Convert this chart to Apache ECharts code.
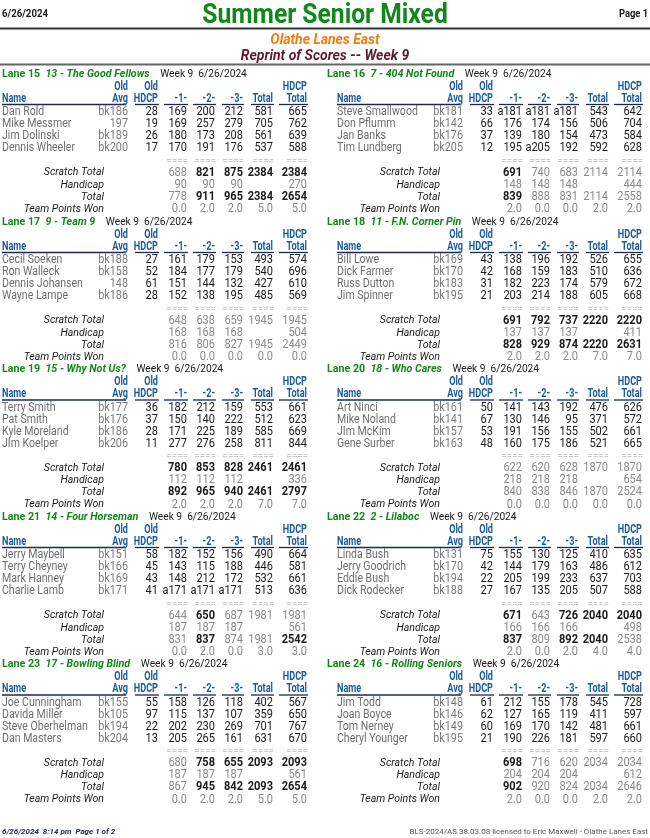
<!DOCTYPE html>
<html><head><meta charset="utf-8">
<script src="https://cdn.jsdelivr.net/npm/echarts@6/dist/echarts.min.js"></script>
<style>html,body{margin:0;padding:0;background:#fff}#c{width:650px;height:838px}</style>
</head><body><div id="c"></div>
<script>
// ---------- DATA ----------
const headerDate = '6/26/2024';
const pageLabel = 'Page 1';
const leagueTitle = 'Summer Senior Mixed';
const centerName = 'Olathe Lanes East';
const reportTitle = 'Reprint of Scores -- Week 9';
const weekLabel = 'Week 9  6/26/2024';
const footerLeft = '6/26/2024  8:14 pm  Page 1 of 2';
const footerRight = 'BLS-2024/AS 38.03.08 licensed to Eric Maxwell - Olathe Lanes East';

const laneNumbers = [15, 16, 17, 18, 19, 20, 21, 22, 23, 24];
const teamNames = ['13 - The Good Fellows', '7 - 404 Not Found', '9 - Team 9', '11 - F.N. Corner Pin',
  '15 - Why Not Us?', '18 - Who Cares', '14 - Four Horseman', '2 - Lilaboc', '17 - Bowling Blind', '16 - Rolling Seniors'];
const playerNames = [
  ['Dan Rold', 'Mike Messmer', 'Jim Dolinski', 'Dennis Wheeler'],
  ['Steve Smallwood', 'Don Pflumm', 'Jan Banks', 'Tim Lundberg'],
  ['Cecil Soeken', 'Ron Walleck', 'Dennis Johansen', 'Wayne Lampe'],
  ['Bill Lowe', 'Dick Farmer', 'Russ Dutton', 'Jim Spinner'],
  ['Terry Smith', 'Pat Smith', 'Kyle Moreland', 'JIm Koelper'],
  ['Art Ninci', 'Mike Noland', 'JIm McKim', 'Gene Surber'],
  ['Jerry Maybell', 'Terry Cheyney', 'Mark Hanney', 'Charlie Lamb'],
  ['Linda Bush', 'Jerry Goodrich', 'Eddie Bush', 'Dick Rodecker'],
  ['Joe Cunningham', 'Davida Miller', 'Steve Oberhelman', 'Dan Masters'],
  ['Jim Todd', 'Joan Boyce', 'Tom Nerney', 'Cheryl Younger']
];
const playerAvgs = [
  ['bk186', '197', 'bk189', 'bk200'],
  ['bk181', 'bk142', 'bk176', 'bk205'],
  ['bk188', 'bk158', '148', 'bk186'],
  ['bk169', 'bk170', 'bk183', 'bk195'],
  ['bk177', 'bk176', 'bk186', 'bk206'],
  ['bk161', 'bk141', 'bk157', 'bk163'],
  ['bk151', 'bk166', 'bk169', 'bk171'],
  ['bk131', 'bk170', 'bk194', 'bk188'],
  ['bk155', 'bk105', 'bk194', 'bk204'],
  ['bk148', 'bk146', 'bk149', 'bk195']
];
const playerHdcps = [
  [28, 19, 26, 17], [33, 66, 37, 12], [27, 52, 61, 28], [43, 42, 31, 21], [36, 37, 28, 11],
  [50, 67, 53, 48], [58, 45, 43, 41], [75, 42, 22, 27], [55, 97, 22, 13], [61, 62, 60, 21]
];
// game 1, game 2, game 3, scratch series, handicap series
const playerScores = [
  [[169, 200, 212, 581, 665], [169, 257, 279, 705, 762], [180, 173, 208, 561, 639], [170, 191, 176, 537, 588]],
  [['a181', 'a181', 'a181', 543, 642], [176, 174, 156, 506, 704], [139, 180, 154, 473, 584], [195, 'a205', 192, 592, 628]],
  [[161, 179, 153, 493, 574], [184, 177, 179, 540, 696], [151, 144, 132, 427, 610], [152, 138, 195, 485, 569]],
  [[138, 196, 192, 526, 655], [168, 159, 183, 510, 636], [182, 223, 174, 579, 672], [203, 214, 188, 605, 668]],
  [[182, 212, 159, 553, 661], [150, 140, 222, 512, 623], [171, 225, 189, 585, 669], [277, 276, 258, 811, 844]],
  [[141, 143, 192, 476, 626], [130, 146, 95, 371, 572], [191, 156, 155, 502, 661], [160, 175, 186, 521, 665]],
  [[182, 152, 156, 490, 664], [143, 115, 188, 446, 581], [148, 212, 172, 532, 661], ['a171', 'a171', 'a171', 513, 636]],
  [[155, 130, 125, 410, 635], [144, 179, 163, 486, 612], [205, 199, 233, 637, 703], [167, 135, 205, 507, 588]],
  [[158, 126, 118, 402, 567], [115, 137, 107, 359, 650], [202, 230, 269, 701, 767], [205, 265, 161, 631, 670]],
  [[212, 155, 178, 545, 728], [127, 165, 119, 411, 597], [169, 170, 142, 481, 661], [190, 226, 181, 597, 660]]
];
const scratchTotals = [
  [688, 821, 875, 2384, 2384], [691, 740, 683, 2114, 2114], [648, 638, 659, 1945, 1945], [691, 792, 737, 2220, 2220],
  [780, 853, 828, 2461, 2461], [622, 620, 628, 1870, 1870], [644, 650, 687, 1981, 1981], [671, 643, 726, 2040, 2040],
  [680, 758, 655, 2093, 2093], [698, 716, 620, 2034, 2034]
];
const handicapTotals = [
  [90, 90, 90, '', 270], [148, 148, 148, '', 444], [168, 168, 168, '', 504], [137, 137, 137, '', 411],
  [112, 112, 112, '', 336], [218, 218, 218, '', 654], [187, 187, 187, '', 561], [166, 166, 166, '', 498],
  [187, 187, 187, '', 561], [204, 204, 204, '', 612]
];
const teamTotals = [
  [778, 911, 965, 2384, 2654], [839, 888, 831, 2114, 2558], [816, 806, 827, 1945, 2449], [828, 929, 874, 2220, 2631],
  [892, 965, 940, 2461, 2797], [840, 838, 846, 1870, 2524], [831, 837, 874, 1981, 2542], [837, 809, 892, 2040, 2538],
  [867, 945, 842, 2093, 2654], [902, 920, 824, 2034, 2646]
];
const teamPoints = [
  ['0.0', '2.0', '2.0', '5.0', '5.0'], ['2.0', '0.0', '0.0', '2.0', '2.0'], ['0.0', '0.0', '0.0', '0.0', '0.0'],
  ['2.0', '2.0', '2.0', '7.0', '7.0'], ['2.0', '2.0', '2.0', '7.0', '7.0'], ['0.0', '0.0', '0.0', '0.0', '0.0'],
  ['0.0', '2.0', '0.0', '3.0', '3.0'], ['2.0', '0.0', '2.0', '4.0', '4.0'], ['0.0', '2.0', '2.0', '5.0', '5.0'],
  ['2.0', '0.0', '0.0', '2.0', '2.0']
];
const totalRowLabels = ['Scratch Total', 'Handicap', 'Total', 'Team Points Won'];

// ---------- LAYOUT / STYLE ----------
const FF = 'Roboto, "Liberation Sans", sans-serif';
const GREEN = '#12881a', ORANGE = '#f07d12', MAROON = '#5e1a33', BLUE = '#1b5b9c';
const font = (size, weight, style) => `${style || 'normal'} ${weight || 'normal'} ${size}px ${FF}`;
const els = [];
function T(x, y, text, o) {
  o = o || {};
  els.push({
    type: 'text', x: x, y: y, scaleX: o.sx || 1, silent: true, z: 10,
    style: {
      text: String(text), fill: o.fill || '#1a1a1a', font: font(o.size || 11, o.weight, o.style),
      textAlign: o.align || 'left', textVerticalAlign: 'middle', align: o.align || 'left', verticalAlign: 'middle',
      rich: o.rich
    }
  });
}
function L(x1, y1, x2, y2, stroke, w) {
  els.push({ type: 'line', silent: true, shape: { x1, y1, x2, y2 }, style: { stroke, lineWidth: w } });
}

// page header
T(2, 14, headerDate, { size: 11, weight: 'bold', sx: 0.88 });
T(648, 14, pageLabel, { size: 11, weight: 'bold', sx: 0.85, align: 'right' });
T(325, 16, leagueTitle, { size: 28, weight: 'bold', fill: GREEN, sx: 0.88, align: 'center' });
L(0, 28.5, 650, 28.5, '#333', 2);
T(325, 40, centerName, { size: 15, weight: 'bold', style: 'italic', fill: ORANGE, sx: 0.93, align: 'center' });
T(325, 56, reportTitle, { size: 14, weight: 'bold', style: 'italic', fill: MAROON, sx: 1.0, align: 'center' });
L(0, 64.5, 650, 64.5, '#666', 2);

// footer
T(2, 832, footerLeft, { size: 8, weight: 'bold', style: 'italic', fill: '#1c2f6e' });
T(648, 832, footerRight, { size: 8, fill: '#555', align: 'right', sx: 1.0 });

const blockY = [74, 74, 222, 222, 369.5, 369.5, 517, 517, 664.5, 664.5];
const colRight = [128, 158, 187, 215, 243, 273, 307];
const ulStart = [null, 135, 164, 193, 222, 251, 279];

function scoreVal(v) { return typeof v === 'number' ? v : parseInt(String(v).replace(/\D/g, ''), 10) || 0; }

laneNumbers.forEach((lane, k) => {
  const right = k % 2 === 1;
  const dx = right ? 335 : 0;
  const opp = right ? k - 1 : k + 1;
  const y0 = blockY[k];
  const titleX = right ? 327 : 2;
  const nameX = right ? 337 : 2;
  const cx = colRight.map(c => c + dx);

  // block title
  T(titleX, y0, `{a|Lane ${lane}}  {b|${teamNames[k]}}    {c|${weekLabel}}`, {
    size: 11, sx: 0.97,
    rich: {
      a: { fill: GREEN, font: font(11, 'bold'), fontFamily: FF, fontWeight: 'bold', fontSize: 11 },
      b: { fill: GREEN, font: font(11, 'bold', 'italic'), fontFamily: FF, fontWeight: 'bold', fontStyle: 'italic', fontSize: 11 },
      c: { fill: '#1a1a1a', font: font(10.5), fontFamily: FF, fontSize: 10.5 }
    }
  });

  // column headers
  const hOpt = a => ({ size: 12, weight: 'bold', fill: BLUE, sx: 0.76, align: a || 'right' });
  T(cx[0], y0 + 12.5, 'Old', hOpt());
  T(cx[1], y0 + 12.5, 'Old', hOpt());
  T(cx[6], y0 + 12.5, 'HDCP', hOpt());
  T(nameX, y0 + 24.5, 'Name', hOpt('left'));
  const hdr = ['Avg', 'HDCP', '-1-', '-2-', '-3-', 'Total', 'Total'];
  hdr.forEach((h, i) => T(cx[i], y0 + 24.5, h, hOpt()));
  const uy = y0 + 30.5;
  L(nameX, uy, cx[0] - 2, uy, '#1a2a50', 1.3);
  for (let i = 1; i < 7; i++) L(ulStart[i] + dx, uy, cx[i] + 1, uy, '#1a2a50', 1.3);

  // players
  const vOpt = (fill, bold) => ({ size: 12, sx: 0.92, fill: fill, align: 'right', weight: bold ? 'bold' : 'normal' });
  playerNames[k].forEach((nm, p) => {
    const py = y0 + 38.3 + p * 12.0;
    T(nameX, py, nm, { size: 12, fill: '#6e6e6e', sx: 0.88 });
    T(cx[0], py, playerAvgs[k][p], { size: 12, sx: 0.9, fill: '#7a7a7a', align: 'right' });
    T(cx[1], py, playerHdcps[k][p], vOpt('#1a1a1a'));
    playerScores[k][p].forEach((v, g) => T(cx[g + 2], py, v, vOpt('#1a1a1a')));
  });

  // separators
  [2, 3, 4, 5, 6].forEach(i => T(cx[i] + 1, y0 + 87.7, '====', { size: 9, fill: '#9a9a9a', sx: 1.1, align: 'right' }));

  // totals rows
  const rows = [scratchTotals[k], handicapTotals[k], teamTotals[k], teamPoints[k]];
  const labX = (right ? 440 : 104);
  rows.forEach((row, r) => {
    const ry = y0 + 98.5 + r * 12.2;
    T(labX, ry, totalRowLabels[r], { size: 11.5, style: 'italic', fill: '#1a1a1a', align: 'right', sx: 0.92 });
    row.forEach((v, g) => {
      let bold = false;
      if (r === 0 || r === 2) {
        if (g < 3) bold = scoreVal(teamTotals[k][g]) > scoreVal(teamTotals[opp][g]);
        else if (g === 3 || r === 0) bold = scratchTotals[k][3] > scratchTotals[opp][3];
        else bold = teamTotals[k][4] > teamTotals[opp][4];
      }
      T(cx[g + 2], ry, v, bold ? vOpt('#1a1a1a', true) : vOpt('#8a8a8a'));
    });
  });
});

const chart = echarts.init(document.getElementById('c'), null, { renderer: 'canvas' });
chart.setOption({ animation: false, graphic: { elements: els } });
</script></body></html>
